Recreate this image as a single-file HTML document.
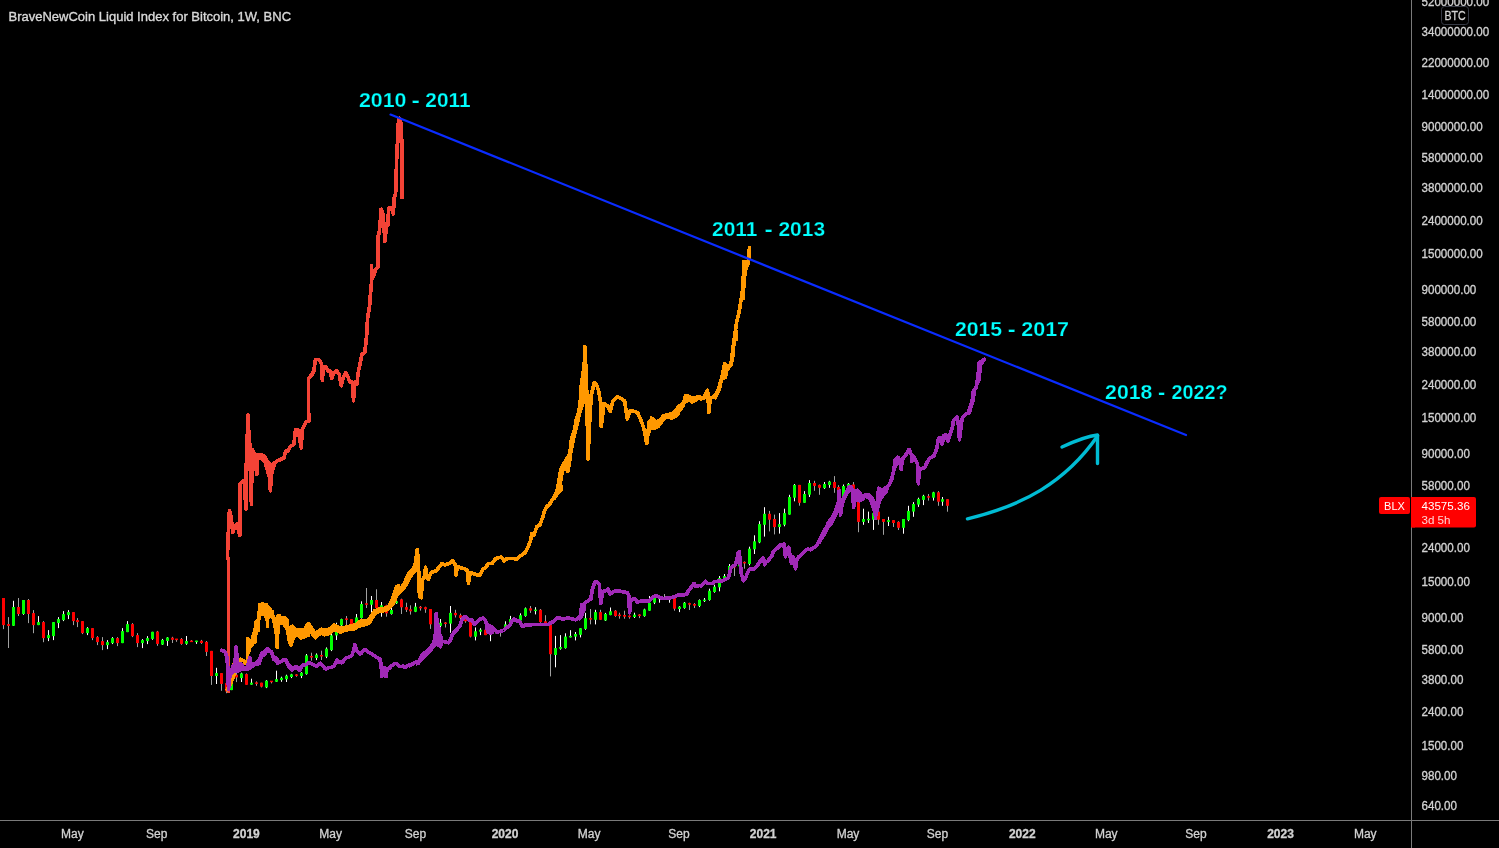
<!DOCTYPE html>
<html><head><meta charset="utf-8"><title>BLX 1W</title>
<style>html,body{margin:0;padding:0;background:#000;width:1499px;height:848px;overflow:hidden}
svg text{white-space:pre}</style></head>
<body>
<svg width="1499" height="848" viewBox="0 0 1499 848" style="position:absolute;left:0;top:0;will-change:transform"><rect x="3" y="598.0" width="1" height="31.1" fill="#a0a0a0"/>
<rect x="8" y="617.1" width="1" height="30.9" fill="#a0a0a0"/>
<rect x="13" y="600.8" width="1" height="25.1" fill="#ffffff"/>
<rect x="18" y="598.0" width="1" height="18.0" fill="#a0a0a0"/>
<rect x="23" y="600.0" width="1" height="14.8" fill="#ffffff"/>
<rect x="28" y="599.0" width="1" height="24.1" fill="#a0a0a0"/>
<rect x="33" y="610.1" width="1" height="23.1" fill="#a0a0a0"/>
<rect x="38" y="616.1" width="1" height="9.0" fill="#ffffff"/>
<rect x="43" y="621.1" width="1" height="21.1" fill="#a0a0a0"/>
<rect x="48" y="630.1" width="1" height="11.0" fill="#ffffff"/>
<rect x="53" y="622.1" width="1" height="18.0" fill="#ffffff"/>
<rect x="58" y="617.1" width="1" height="11.0" fill="#ffffff"/>
<rect x="63" y="611.1" width="1" height="10.0" fill="#ffffff"/>
<rect x="68" y="610.1" width="1" height="9.0" fill="#ffffff"/>
<rect x="73" y="612.1" width="1" height="13.0" fill="#a0a0a0"/>
<rect x="77" y="618.1" width="1" height="9.0" fill="#a0a0a0"/>
<rect x="82" y="621.1" width="1" height="13.0" fill="#a0a0a0"/>
<rect x="87" y="627.1" width="1" height="8.0" fill="#ffffff"/>
<rect x="92" y="628.1" width="1" height="12.0" fill="#a0a0a0"/>
<rect x="97" y="636.1" width="1" height="9.0" fill="#a0a0a0"/>
<rect x="102" y="637.1" width="1" height="13.0" fill="#a0a0a0"/>
<rect x="107" y="640.1" width="1" height="9.0" fill="#ffffff"/>
<rect x="112" y="637.1" width="1" height="7.0" fill="#ffffff"/>
<rect x="117" y="637.1" width="1" height="9.0" fill="#a0a0a0"/>
<rect x="122" y="628.1" width="1" height="15.0" fill="#ffffff"/>
<rect x="127" y="621.1" width="1" height="11.0" fill="#ffffff"/>
<rect x="132" y="623.1" width="1" height="14.0" fill="#a0a0a0"/>
<rect x="137" y="633.1" width="1" height="14.0" fill="#a0a0a0"/>
<rect x="142" y="639.1" width="1" height="9.0" fill="#ffffff"/>
<rect x="147" y="636.1" width="1" height="8.0" fill="#ffffff"/>
<rect x="152" y="631.8" width="1" height="8.0" fill="#ffffff"/>
<rect x="157" y="630.9" width="1" height="14.9" fill="#a0a0a0"/>
<rect x="162" y="638.9" width="1" height="6.1" fill="#ffffff"/>
<rect x="167" y="637.1" width="1" height="8.8" fill="#ffffff"/>
<rect x="172" y="636.8" width="1" height="6.2" fill="#a0a0a0"/>
<rect x="176" y="638.9" width="1" height="2.9" fill="#a0a0a0"/>
<rect x="181" y="638.0" width="1" height="6.8" fill="#a0a0a0"/>
<rect x="186" y="636.0" width="1" height="8.8" fill="#ffffff"/>
<rect x="191" y="640.1" width="1" height="1.9" fill="#a0a0a0"/>
<rect x="196" y="640.8" width="1" height="3.1" fill="#ffffff"/>
<rect x="201" y="639.9" width="1" height="4.0" fill="#a0a0a0"/>
<rect x="206" y="641.0" width="1" height="15.0" fill="#a0a0a0"/>
<rect x="211" y="650.9" width="1" height="34.0" fill="#a0a0a0"/>
<rect x="216" y="667.8" width="1" height="16.2" fill="#ffffff"/>
<rect x="221" y="673.1" width="1" height="17.7" fill="#a0a0a0"/>
<rect x="226" y="681.4" width="1" height="11.8" fill="#a0a0a0"/>
<rect x="231" y="678.1" width="1" height="12.0" fill="#ffffff"/>
<rect x="236" y="671.4" width="1" height="10.7" fill="#a0a0a0"/>
<rect x="241" y="672.7" width="1" height="9.3" fill="#ffffff"/>
<rect x="246" y="673.4" width="1" height="11.3" fill="#a0a0a0"/>
<rect x="251" y="678.7" width="1" height="6.0" fill="#ffffff"/>
<rect x="256" y="681.4" width="1" height="4.4" fill="#a0a0a0"/>
<rect x="261" y="682.7" width="1" height="4.7" fill="#a0a0a0"/>
<rect x="266" y="680.1" width="1" height="8.0" fill="#ffffff"/>
<rect x="271" y="681.1" width="1" height="2.3" fill="#a0a0a0"/>
<rect x="276" y="670.7" width="1" height="11.3" fill="#ffffff"/>
<rect x="281" y="676.7" width="1" height="5.1" fill="#ffffff"/>
<rect x="286" y="674.7" width="1" height="7.3" fill="#ffffff"/>
<rect x="291" y="673.8" width="1" height="4.3" fill="#ffffff"/>
<rect x="296" y="674.1" width="1" height="2.7" fill="#a0a0a0"/>
<rect x="301" y="672.1" width="1" height="6.0" fill="#ffffff"/>
<rect x="306" y="654.0" width="1" height="20.7" fill="#ffffff"/>
<rect x="311" y="652.7" width="1" height="8.0" fill="#a0a0a0"/>
<rect x="316" y="653.4" width="1" height="6.7" fill="#ffffff"/>
<rect x="321" y="650.7" width="1" height="9.3" fill="#a0a0a0"/>
<rect x="326" y="647.4" width="1" height="10.7" fill="#ffffff"/>
<rect x="331" y="634.0" width="1" height="17.1" fill="#ffffff"/>
<rect x="336" y="622.7" width="1" height="17.3" fill="#ffffff"/>
<rect x="341" y="618.7" width="1" height="7.3" fill="#ffffff"/>
<rect x="346" y="616.0" width="1" height="10.0" fill="#a0a0a0"/>
<rect x="351" y="619.1" width="1" height="8.3" fill="#a0a0a0"/>
<rect x="356" y="614.0" width="1" height="12.7" fill="#ffffff"/>
<rect x="361" y="601.3" width="1" height="17.3" fill="#ffffff"/>
<rect x="366" y="588.0" width="1" height="20.0" fill="#a0a0a0"/>
<rect x="371" y="596.0" width="1" height="16.7" fill="#ffffff"/>
<rect x="376" y="589.3" width="1" height="19.3" fill="#a0a0a0"/>
<rect x="381" y="602.0" width="1" height="14.7" fill="#ffffff"/>
<rect x="386" y="604.7" width="1" height="12.0" fill="#a0a0a0"/>
<rect x="391" y="603.3" width="1" height="11.3" fill="#ffffff"/>
<rect x="396" y="600.7" width="1" height="3.3" fill="#ffffff"/>
<rect x="401" y="598.7" width="1" height="15.3" fill="#a0a0a0"/>
<rect x="406" y="602.7" width="1" height="9.3" fill="#a0a0a0"/>
<rect x="410" y="605.3" width="1" height="9.3" fill="#a0a0a0"/>
<rect x="420" y="606.0" width="1" height="4.6" fill="#a0a0a0"/>
<rect x="425" y="606.7" width="1" height="6.1" fill="#a0a0a0"/>
<rect x="430" y="609.0" width="1" height="19.9" fill="#a0a0a0"/>
<rect x="435" y="621.3" width="1" height="6.1" fill="#ffffff"/>
<rect x="440" y="619.0" width="1" height="8.4" fill="#ffffff"/>
<rect x="445" y="622.1" width="1" height="5.4" fill="#a0a0a0"/>
<rect x="450" y="606.0" width="1" height="26.8" fill="#ffffff"/>
<rect x="455" y="609.8" width="1" height="7.7" fill="#a0a0a0"/>
<rect x="460" y="613.6" width="1" height="7.7" fill="#a0a0a0"/>
<rect x="465" y="616.7" width="1" height="6.1" fill="#a0a0a0"/>
<rect x="470" y="620.5" width="1" height="16.9" fill="#a0a0a0"/>
<rect x="475" y="627.4" width="1" height="13.0" fill="#ffffff"/>
<rect x="480" y="628.2" width="1" height="6.9" fill="#ffffff"/>
<rect x="485" y="629.7" width="1" height="5.4" fill="#a0a0a0"/>
<rect x="490" y="630.5" width="1" height="10.7" fill="#ffffff"/>
<rect x="495" y="629.7" width="1" height="3.8" fill="#a0a0a0"/>
<rect x="500" y="630.5" width="1" height="6.1" fill="#a0a0a0"/>
<rect x="505" y="621.3" width="1" height="8.4" fill="#ffffff"/>
<rect x="510" y="615.9" width="1" height="7.7" fill="#ffffff"/>
<rect x="515" y="618.2" width="1" height="3.1" fill="#a0a0a0"/>
<rect x="520" y="613.3" width="1" height="8.0" fill="#ffffff"/>
<rect x="525" y="607.5" width="1" height="9.2" fill="#ffffff"/>
<rect x="530" y="606.0" width="1" height="6.9" fill="#a0a0a0"/>
<rect x="535" y="607.2" width="1" height="7.2" fill="#ffffff"/>
<rect x="540" y="609.0" width="1" height="13.8" fill="#a0a0a0"/>
<rect x="545" y="615.2" width="1" height="10.0" fill="#a0a0a0"/>
<rect x="550" y="625.1" width="1" height="51.3" fill="#a0a0a0"/>
<rect x="555" y="635.9" width="1" height="31.4" fill="#ffffff"/>
<rect x="560" y="635.1" width="1" height="14.6" fill="#ffffff"/>
<rect x="565" y="633.3" width="1" height="15.3" fill="#ffffff"/>
<rect x="570" y="630.2" width="1" height="7.2" fill="#ffffff"/>
<rect x="575" y="632.0" width="1" height="8.4" fill="#ffffff"/>
<rect x="580" y="628.2" width="1" height="9.2" fill="#ffffff"/>
<rect x="585" y="612.9" width="1" height="16.9" fill="#ffffff"/>
<rect x="590" y="609.0" width="1" height="15.3" fill="#a0a0a0"/>
<rect x="595" y="609.8" width="1" height="14.6" fill="#ffffff"/>
<rect x="600" y="609.8" width="1" height="10.0" fill="#a0a0a0"/>
<rect x="605" y="612.9" width="1" height="8.1" fill="#ffffff"/>
<rect x="610" y="607.5" width="1" height="7.7" fill="#ffffff"/>
<rect x="615" y="610.1" width="1" height="6.7" fill="#a0a0a0"/>
<rect x="619" y="612.7" width="1" height="6.0" fill="#a0a0a0"/>
<rect x="624" y="610.7" width="1" height="8.0" fill="#a0a0a0"/>
<rect x="629" y="615.4" width="1" height="3.3" fill="#a0a0a0"/>
<rect x="634" y="612.7" width="1" height="5.3" fill="#ffffff"/>
<rect x="639" y="614.1" width="1" height="4.0" fill="#a0a0a0"/>
<rect x="644" y="608.7" width="1" height="8.0" fill="#ffffff"/>
<rect x="649" y="596.0" width="1" height="14.7" fill="#ffffff"/>
<rect x="654" y="597.4" width="1" height="6.7" fill="#ffffff"/>
<rect x="659" y="595.4" width="1" height="7.3" fill="#ffffff"/>
<rect x="664" y="594.0" width="1" height="6.0" fill="#a0a0a0"/>
<rect x="669" y="598.0" width="1" height="4.7" fill="#ffffff"/>
<rect x="674" y="597.4" width="1" height="13.3" fill="#a0a0a0"/>
<rect x="679" y="606.1" width="1" height="6.0" fill="#ffffff"/>
<rect x="684" y="602.0" width="1" height="6.7" fill="#ffffff"/>
<rect x="689" y="602.7" width="1" height="7.3" fill="#a0a0a0"/>
<rect x="694" y="603.1" width="1" height="4.9" fill="#a0a0a0"/>
<rect x="699" y="599.4" width="1" height="7.7" fill="#ffffff"/>
<rect x="704" y="598.0" width="1" height="4.0" fill="#ffffff"/>
<rect x="709" y="588.7" width="1" height="12.0" fill="#ffffff"/>
<rect x="714" y="584.7" width="1" height="8.0" fill="#ffffff"/>
<rect x="719" y="576.0" width="1" height="15.3" fill="#ffffff"/>
<rect x="724" y="574.0" width="1" height="8.0" fill="#ffffff"/>
<rect x="729" y="564.0" width="1" height="13.3" fill="#ffffff"/>
<rect x="734" y="562.0" width="1" height="14.0" fill="#a0a0a0"/>
<rect x="739" y="556.7" width="1" height="10.7" fill="#ffffff"/>
<rect x="744" y="561.4" width="1" height="7.3" fill="#a0a0a0"/>
<rect x="749" y="546.7" width="1" height="18.7" fill="#ffffff"/>
<rect x="754" y="535.3" width="1" height="18.7" fill="#ffffff"/>
<rect x="759" y="521.2" width="1" height="22.0" fill="#ffffff"/>
<rect x="764" y="507.2" width="1" height="29.4" fill="#ffffff"/>
<rect x="769" y="510.9" width="1" height="20.5" fill="#a0a0a0"/>
<rect x="774" y="514.6" width="1" height="19.8" fill="#a0a0a0"/>
<rect x="779" y="513.1" width="1" height="20.5" fill="#ffffff"/>
<rect x="784" y="508.7" width="1" height="17.6" fill="#ffffff"/>
<rect x="789" y="494.8" width="1" height="19.8" fill="#ffffff"/>
<rect x="794" y="484.0" width="1" height="17.3" fill="#ffffff"/>
<rect x="799" y="484.9" width="1" height="20.8" fill="#a0a0a0"/>
<rect x="804" y="491.1" width="1" height="11.7" fill="#ffffff"/>
<rect x="809" y="480.1" width="1" height="16.9" fill="#ffffff"/>
<rect x="814" y="480.8" width="1" height="10.0" fill="#a0a0a0"/>
<rect x="819" y="484.5" width="1" height="10.3" fill="#a0a0a0"/>
<rect x="824" y="482.0" width="1" height="6.9" fill="#ffffff"/>
<rect x="829" y="480.8" width="1" height="7.0" fill="#ffffff"/>
<rect x="834" y="476.1" width="1" height="16.7" fill="#a0a0a0"/>
<rect x="838" y="485.2" width="1" height="5.9" fill="#a0a0a0"/>
<rect x="843" y="484.5" width="1" height="13.2" fill="#ffffff"/>
<rect x="848" y="483.0" width="1" height="3.7" fill="#ffffff"/>
<rect x="853" y="482.0" width="1" height="10.6" fill="#a0a0a0"/>
<rect x="858" y="499.9" width="1" height="32.3" fill="#a0a0a0"/>
<rect x="863" y="508.7" width="1" height="16.1" fill="#ffffff"/>
<rect x="868" y="511.6" width="1" height="11.4" fill="#ffffff"/>
<rect x="873" y="511.6" width="1" height="18.3" fill="#ffffff"/>
<rect x="878" y="508.7" width="1" height="16.1" fill="#a0a0a0"/>
<rect x="883" y="519.0" width="1" height="15.8" fill="#a0a0a0"/>
<rect x="888" y="516.8" width="1" height="9.2" fill="#ffffff"/>
<rect x="893" y="520.1" width="1" height="6.9" fill="#a0a0a0"/>
<rect x="898" y="521.2" width="1" height="8.8" fill="#a0a0a0"/>
<rect x="903" y="519.0" width="1" height="14.7" fill="#ffffff"/>
<rect x="908" y="505.8" width="1" height="15.4" fill="#ffffff"/>
<rect x="913" y="502.1" width="1" height="14.7" fill="#ffffff"/>
<rect x="918" y="497.7" width="1" height="9.2" fill="#ffffff"/>
<rect x="923" y="494.8" width="1" height="10.3" fill="#ffffff"/>
<rect x="928" y="494.0" width="1" height="6.6" fill="#a0a0a0"/>
<rect x="933" y="491.8" width="1" height="8.8" fill="#ffffff"/>
<rect x="938" y="491.1" width="1" height="14.7" fill="#a0a0a0"/>
<rect x="942" y="497.0" width="1" height="8.8" fill="#ffffff"/>
<rect x="947" y="499.2" width="1" height="12.5" fill="#a0a0a0"/>
<rect x="415" y="602.9" width="1" height="9.2" fill="#ffffff"/>
<rect x="2" y="598.0" width="3" height="27.1" fill="#ff0000"/>
<rect x="7" y="624.1" width="3" height="1.8" fill="#ff0000"/>
<rect x="12" y="607.0" width="3" height="18.8" fill="#00ff00"/>
<rect x="17" y="607.0" width="3" height="7.0" fill="#ff0000"/>
<rect x="22" y="600.0" width="3" height="14.0" fill="#00ff00"/>
<rect x="27" y="600.0" width="3" height="14.0" fill="#ff0000"/>
<rect x="32" y="613.1" width="3" height="12.0" fill="#ff0000"/>
<rect x="37" y="622.1" width="3" height="3.0" fill="#00ff00"/>
<rect x="42" y="622.1" width="3" height="16.0" fill="#ff0000"/>
<rect x="47" y="635.1" width="3" height="3.0" fill="#00ff00"/>
<rect x="52" y="622.1" width="3" height="14.0" fill="#00ff00"/>
<rect x="57" y="619.1" width="3" height="4.0" fill="#00ff00"/>
<rect x="62" y="614.1" width="3" height="6.0" fill="#00ff00"/>
<rect x="67" y="612.1" width="3" height="3.0" fill="#00ff00"/>
<rect x="72" y="612.1" width="3" height="9.0" fill="#ff0000"/>
<rect x="76" y="620.1" width="3" height="2.0" fill="#ff0000"/>
<rect x="81" y="621.1" width="3" height="12.0" fill="#ff0000"/>
<rect x="86" y="628.1" width="3" height="5.0" fill="#00ff00"/>
<rect x="91" y="628.1" width="3" height="10.0" fill="#ff0000"/>
<rect x="96" y="637.1" width="3" height="5.0" fill="#ff0000"/>
<rect x="101" y="641.1" width="3" height="4.0" fill="#ff0000"/>
<rect x="106" y="642.1" width="3" height="3.0" fill="#00ff00"/>
<rect x="111" y="638.1" width="3" height="5.0" fill="#00ff00"/>
<rect x="116" y="638.1" width="3" height="5.0" fill="#ff0000"/>
<rect x="121" y="631.1" width="3" height="12.0" fill="#00ff00"/>
<rect x="126" y="624.1" width="3" height="8.0" fill="#00ff00"/>
<rect x="131" y="624.1" width="3" height="12.0" fill="#ff0000"/>
<rect x="136" y="635.1" width="3" height="8.0" fill="#ff0000"/>
<rect x="141" y="640.1" width="3" height="3.0" fill="#00ff00"/>
<rect x="146" y="638.1" width="3" height="3.0" fill="#00ff00"/>
<rect x="151" y="631.8" width="3" height="7.1" fill="#00ff00"/>
<rect x="156" y="631.6" width="3" height="12.3" fill="#ff0000"/>
<rect x="161" y="639.9" width="3" height="4.7" fill="#00ff00"/>
<rect x="166" y="637.5" width="3" height="3.5" fill="#00ff00"/>
<rect x="171" y="637.7" width="3" height="2.1" fill="#ff0000"/>
<rect x="175" y="638.6" width="3" height="1.5" fill="#ff0000"/>
<rect x="180" y="638.9" width="3" height="5.0" fill="#ff0000"/>
<rect x="185" y="641.0" width="3" height="2.8" fill="#00ff00"/>
<rect x="190" y="640.6" width="3" height="1.5" fill="#ff0000"/>
<rect x="195" y="640.6" width="3" height="1.5" fill="#00ff00"/>
<rect x="200" y="640.8" width="3" height="2.2" fill="#ff0000"/>
<rect x="205" y="641.9" width="3" height="10.0" fill="#ff0000"/>
<rect x="210" y="650.9" width="3" height="25.1" fill="#ff0000"/>
<rect x="215" y="673.1" width="3" height="2.9" fill="#00ff00"/>
<rect x="220" y="673.1" width="3" height="10.8" fill="#ff0000"/>
<rect x="225" y="683.1" width="3" height="8.3" fill="#ff0000"/>
<rect x="230" y="682.1" width="3" height="8.0" fill="#00ff00"/>
<rect x="235" y="674.7" width="3" height="2.7" fill="#ff0000"/>
<rect x="240" y="673.4" width="3" height="4.7" fill="#00ff00"/>
<rect x="245" y="674.1" width="3" height="10.7" fill="#ff0000"/>
<rect x="250" y="682.7" width="3" height="2.0" fill="#00ff00"/>
<rect x="255" y="682.4" width="3" height="1.5" fill="#ff0000"/>
<rect x="260" y="682.7" width="3" height="4.0" fill="#ff0000"/>
<rect x="265" y="680.7" width="3" height="6.7" fill="#00ff00"/>
<rect x="270" y="680.7" width="3" height="1.5" fill="#ff0000"/>
<rect x="275" y="679.1" width="3" height="2.7" fill="#00ff00"/>
<rect x="280" y="677.8" width="3" height="2.3" fill="#00ff00"/>
<rect x="285" y="675.7" width="3" height="3.5" fill="#00ff00"/>
<rect x="290" y="674.3" width="3" height="2.7" fill="#00ff00"/>
<rect x="295" y="674.4" width="3" height="1.5" fill="#ff0000"/>
<rect x="300" y="672.7" width="3" height="3.3" fill="#00ff00"/>
<rect x="305" y="655.4" width="3" height="18.7" fill="#00ff00"/>
<rect x="310" y="656.0" width="3" height="1.5" fill="#ff0000"/>
<rect x="315" y="654.7" width="3" height="3.3" fill="#00ff00"/>
<rect x="320" y="655.0" width="3" height="1.5" fill="#ff0000"/>
<rect x="325" y="648.7" width="3" height="8.0" fill="#00ff00"/>
<rect x="330" y="635.4" width="3" height="14.7" fill="#00ff00"/>
<rect x="335" y="630.7" width="3" height="4.7" fill="#00ff00"/>
<rect x="340" y="619.1" width="3" height="6.3" fill="#00ff00"/>
<rect x="345" y="618.4" width="3" height="1.5" fill="#ff0000"/>
<rect x="350" y="619.1" width="3" height="7.6" fill="#ff0000"/>
<rect x="355" y="617.4" width="3" height="8.0" fill="#00ff00"/>
<rect x="360" y="604.0" width="3" height="14.0" fill="#00ff00"/>
<rect x="365" y="603.3" width="3" height="1.5" fill="#ff0000"/>
<rect x="370" y="600.0" width="3" height="4.7" fill="#00ff00"/>
<rect x="375" y="600.0" width="3" height="8.0" fill="#ff0000"/>
<rect x="380" y="605.3" width="3" height="3.3" fill="#00ff00"/>
<rect x="385" y="605.3" width="3" height="8.0" fill="#ff0000"/>
<rect x="390" y="610.0" width="3" height="4.0" fill="#00ff00"/>
<rect x="395" y="601.3" width="3" height="2.0" fill="#00ff00"/>
<rect x="400" y="599.3" width="3" height="8.0" fill="#ff0000"/>
<rect x="405" y="607.1" width="3" height="2.7" fill="#ff0000"/>
<rect x="409" y="609.3" width="3" height="2.0" fill="#ff0000"/>
<rect x="419" y="606.8" width="3" height="1.5" fill="#ff0000"/>
<rect x="424" y="607.2" width="3" height="2.1" fill="#ff0000"/>
<rect x="429" y="609.0" width="3" height="15.3" fill="#ff0000"/>
<rect x="434" y="622.8" width="3" height="3.1" fill="#00ff00"/>
<rect x="439" y="622.8" width="3" height="3.1" fill="#00ff00"/>
<rect x="444" y="622.5" width="3" height="1.5" fill="#ff0000"/>
<rect x="449" y="612.9" width="3" height="10.7" fill="#00ff00"/>
<rect x="454" y="612.9" width="3" height="2.3" fill="#ff0000"/>
<rect x="459" y="615.2" width="3" height="2.8" fill="#ff0000"/>
<rect x="464" y="617.9" width="3" height="3.4" fill="#ff0000"/>
<rect x="469" y="621.3" width="3" height="15.3" fill="#ff0000"/>
<rect x="474" y="631.3" width="3" height="5.4" fill="#00ff00"/>
<rect x="479" y="629.7" width="3" height="2.0" fill="#00ff00"/>
<rect x="484" y="629.7" width="3" height="5.4" fill="#ff0000"/>
<rect x="489" y="632.0" width="3" height="3.1" fill="#00ff00"/>
<rect x="494" y="630.5" width="3" height="1.5" fill="#ff0000"/>
<rect x="499" y="630.9" width="3" height="1.5" fill="#ff0000"/>
<rect x="504" y="624.4" width="3" height="4.6" fill="#00ff00"/>
<rect x="509" y="619.0" width="3" height="3.8" fill="#00ff00"/>
<rect x="514" y="619.0" width="3" height="1.5" fill="#ff0000"/>
<rect x="519" y="615.2" width="3" height="5.4" fill="#00ff00"/>
<rect x="524" y="608.3" width="3" height="7.7" fill="#00ff00"/>
<rect x="529" y="608.3" width="3" height="2.3" fill="#ff0000"/>
<rect x="534" y="609.6" width="3" height="1.5" fill="#00ff00"/>
<rect x="539" y="609.8" width="3" height="12.3" fill="#ff0000"/>
<rect x="544" y="621.3" width="3" height="2.3" fill="#ff0000"/>
<rect x="549" y="625.1" width="3" height="29.1" fill="#ff0000"/>
<rect x="554" y="648.1" width="3" height="6.9" fill="#00ff00"/>
<rect x="559" y="647.0" width="3" height="1.8" fill="#00ff00"/>
<rect x="564" y="636.6" width="3" height="11.5" fill="#00ff00"/>
<rect x="569" y="635.9" width="3" height="1.5" fill="#00ff00"/>
<rect x="574" y="634.0" width="3" height="2.6" fill="#00ff00"/>
<rect x="579" y="628.2" width="3" height="6.6" fill="#00ff00"/>
<rect x="584" y="618.2" width="3" height="10.7" fill="#00ff00"/>
<rect x="589" y="618.1" width="3" height="1.5" fill="#ff0000"/>
<rect x="594" y="612.1" width="3" height="7.7" fill="#00ff00"/>
<rect x="599" y="612.1" width="3" height="7.7" fill="#ff0000"/>
<rect x="604" y="613.9" width="3" height="6.6" fill="#00ff00"/>
<rect x="609" y="611.3" width="3" height="3.8" fill="#00ff00"/>
<rect x="614" y="610.7" width="3" height="5.3" fill="#ff0000"/>
<rect x="618" y="614.6" width="3" height="1.5" fill="#ff0000"/>
<rect x="623" y="615.0" width="3" height="1.7" fill="#ff0000"/>
<rect x="628" y="615.6" width="3" height="1.5" fill="#ff0000"/>
<rect x="633" y="614.7" width="3" height="2.3" fill="#00ff00"/>
<rect x="638" y="614.5" width="3" height="1.5" fill="#ff0000"/>
<rect x="643" y="609.4" width="3" height="6.7" fill="#00ff00"/>
<rect x="648" y="602.7" width="3" height="8.0" fill="#00ff00"/>
<rect x="653" y="598.0" width="3" height="4.7" fill="#00ff00"/>
<rect x="658" y="597.7" width="3" height="1.5" fill="#00ff00"/>
<rect x="663" y="597.0" width="3" height="1.5" fill="#ff0000"/>
<rect x="668" y="598.4" width="3" height="1.5" fill="#00ff00"/>
<rect x="673" y="598.0" width="3" height="10.7" fill="#ff0000"/>
<rect x="678" y="606.7" width="3" height="2.3" fill="#00ff00"/>
<rect x="683" y="602.7" width="3" height="5.3" fill="#00ff00"/>
<rect x="688" y="603.1" width="3" height="1.6" fill="#ff0000"/>
<rect x="693" y="604.0" width="3" height="1.7" fill="#ff0000"/>
<rect x="698" y="600.0" width="3" height="6.0" fill="#00ff00"/>
<rect x="703" y="599.6" width="3" height="1.5" fill="#00ff00"/>
<rect x="708" y="590.7" width="3" height="9.3" fill="#00ff00"/>
<rect x="713" y="586.7" width="3" height="5.3" fill="#00ff00"/>
<rect x="718" y="578.0" width="3" height="9.3" fill="#00ff00"/>
<rect x="723" y="576.0" width="3" height="2.7" fill="#00ff00"/>
<rect x="728" y="566.0" width="3" height="10.7" fill="#00ff00"/>
<rect x="733" y="565.9" width="3" height="1.5" fill="#ff0000"/>
<rect x="738" y="562.7" width="3" height="3.6" fill="#00ff00"/>
<rect x="743" y="561.9" width="3" height="1.5" fill="#ff0000"/>
<rect x="748" y="548.7" width="3" height="15.3" fill="#00ff00"/>
<rect x="753" y="541.3" width="3" height="8.0" fill="#00ff00"/>
<rect x="758" y="524.1" width="3" height="18.3" fill="#00ff00"/>
<rect x="763" y="513.8" width="3" height="11.0" fill="#00ff00"/>
<rect x="768" y="513.8" width="3" height="5.9" fill="#ff0000"/>
<rect x="773" y="519.0" width="3" height="8.1" fill="#ff0000"/>
<rect x="778" y="524.1" width="3" height="2.9" fill="#00ff00"/>
<rect x="783" y="513.1" width="3" height="11.7" fill="#00ff00"/>
<rect x="788" y="497.0" width="3" height="17.6" fill="#00ff00"/>
<rect x="793" y="484.9" width="3" height="12.8" fill="#00ff00"/>
<rect x="798" y="484.9" width="3" height="17.9" fill="#ff0000"/>
<rect x="803" y="494.0" width="3" height="8.8" fill="#00ff00"/>
<rect x="808" y="483.0" width="3" height="11.7" fill="#00ff00"/>
<rect x="813" y="483.0" width="3" height="2.9" fill="#ff0000"/>
<rect x="818" y="484.9" width="3" height="2.9" fill="#ff0000"/>
<rect x="823" y="484.0" width="3" height="4.1" fill="#00ff00"/>
<rect x="828" y="481.6" width="3" height="3.4" fill="#00ff00"/>
<rect x="833" y="482.0" width="3" height="5.9" fill="#ff0000"/>
<rect x="837" y="487.0" width="3" height="3.8" fill="#ff0000"/>
<rect x="842" y="486.0" width="3" height="10.7" fill="#00ff00"/>
<rect x="847" y="483.8" width="3" height="2.2" fill="#00ff00"/>
<rect x="852" y="484.5" width="3" height="7.3" fill="#ff0000"/>
<rect x="857" y="499.9" width="3" height="22.0" fill="#ff0000"/>
<rect x="862" y="519.0" width="3" height="2.9" fill="#00ff00"/>
<rect x="867" y="518.8" width="3" height="1.5" fill="#00ff00"/>
<rect x="872" y="513.1" width="3" height="6.6" fill="#00ff00"/>
<rect x="877" y="511.6" width="3" height="8.1" fill="#ff0000"/>
<rect x="882" y="519.0" width="3" height="2.9" fill="#ff0000"/>
<rect x="887" y="520.1" width="3" height="1.8" fill="#00ff00"/>
<rect x="892" y="520.1" width="3" height="2.9" fill="#ff0000"/>
<rect x="897" y="521.9" width="3" height="5.9" fill="#ff0000"/>
<rect x="902" y="519.0" width="3" height="8.8" fill="#00ff00"/>
<rect x="907" y="510.9" width="3" height="9.2" fill="#00ff00"/>
<rect x="912" y="504.0" width="3" height="7.6" fill="#00ff00"/>
<rect x="917" y="498.9" width="3" height="5.7" fill="#00ff00"/>
<rect x="922" y="495.8" width="3" height="4.1" fill="#00ff00"/>
<rect x="927" y="496.2" width="3" height="1.5" fill="#ff0000"/>
<rect x="932" y="492.3" width="3" height="5.4" fill="#00ff00"/>
<rect x="937" y="492.3" width="3" height="9.4" fill="#ff0000"/>
<rect x="941" y="499.2" width="3" height="2.5" fill="#00ff00"/>
<rect x="946" y="499.2" width="3" height="6.6" fill="#ff0000"/>
<rect x="414" y="606.7" width="3" height="5.1" fill="#00ff00"/>
<polyline points="228.5,691.6 228.5,558.1 227.4,558.1 227.9,542.0 228.6,527.2 229.4,510.7 231.1,517.3 232.7,532.1 234.4,527.2 236.9,523.9 238.5,530.5 239.8,535.4 239.8,484.3 242.6,481.0 244.3,481.0 245.9,509.0 246.4,459.5 248.1,414.9 249.2,444.6 250.1,444.6 251.4,504.1 252.1,449.6 255.0,454.5 256.7,474.4 257.5,454.5 261.6,454.5 264.1,456.2 266.6,461.1 269.1,464.4 270.4,490.9 271.5,471.1 274.0,464.4 276.5,461.1 280.6,459.5 283.9,457.8 285.6,451.2 288.1,451.2 290.5,446.3 293.8,444.6 295.5,429.8 298.0,429.8 301.3,447.9 302.1,429.8 304.6,424.8 306.2,421.5 308.7,421.5 308.6,400.9 308.6,378.3 312.0,374.5 313.9,370.8 315.4,359.4 318.6,359.4 321.4,363.2 322.4,380.2 323.3,367.0 326.1,367.0 328.0,370.8 329.9,370.8 331.8,378.3 333.7,372.6 336.5,370.8 339.3,374.5 341.2,385.8 343.1,378.3 345.6,372.6 347.8,376.4 349.7,382.1 352.5,382.1 353.5,400.9 354.4,382.1 356.9,384.0 358.2,372.6 360.1,363.2 362.0,353.8 364.8,352.8 366.7,334.9 367.6,317.9 369.5,306.6 370.5,293.4 371.4,284.0 371.4,266.0 372.4,278.3 374.2,274.5 376.1,268.9 378.0,267.0 377.8,236.6 379.2,232.8 380.4,219.6 381.1,209.2 382.5,212.1 383.5,219.6 384.9,241.3 386.3,227.2 387.7,225.3 388.7,208.3 389.6,208.3 391.5,208.3 393.4,214.0 393.9,203.6 394.3,197.0 395.6,194.2 396.8,154.6 397.7,138.1 398.5,119.9 399.3,118.3 400.6,119.9 401.3,143.0 401.8,139.7 402.1,197.5" fill="none" stroke="#f44336" stroke-width="3.7" stroke-linejoin="round" stroke-linecap="square" shape-rendering="crispEdges"/>
<polygon points="257.5,453.7 265.3,454.2 268.2,459.5 271.5,462.8 276.5,459.5 276.5,464.4 274.0,471.1 272.4,479.3 271.5,490.9 269.4,490.9 268.2,479.3 265.8,471.1 263.3,462.8 257.5,457.8" fill="#f44336" shape-rendering="crispEdges"/>
<polygon points="245.1,459.5 247.6,444.6 252.5,449.6 255.9,452.9 257.5,454.5 257.5,474.4 255.9,474.4 254.2,459.5 251.7,459.5 250.1,471.1 248.4,471.1 246.8,474.4 245.1,481.0" fill="#f44336" shape-rendering="crispEdges"/>
<polyline points="227.3,689.3 230.8,683.4 232.6,678.7 233.8,675.2 234.4,671.7 233.8,664.0 235.0,670.5 236.2,666.9 237.3,665.8 240.9,659.3 243.8,661.0 245.6,663.4 247.4,661.0 247.7,638.6 249.7,641.0 251.5,642.2 253.2,636.3 255.0,630.4 256.2,622.1 258.6,619.8 259.7,606.8 262.1,604.4 262.3,603.9 264.5,604.9 266.6,619.8 267.6,607.0 269.8,609.2 271.9,613.4 274.0,619.8 276.1,630.4 277.2,647.4 278.3,615.5 280.4,617.7 282.5,619.8 284.6,617.7 286.8,619.8 288.9,638.9 291.0,645.3 292.1,626.2 294.2,628.3 296.3,630.4 298.4,632.5 300.6,630.4 302.7,630.4 304.8,634.6 306.9,628.3 309.0,624.0 311.2,628.3 313.3,634.6 315.4,636.8 317.5,632.5 319.7,630.4 321.8,629.3 323.9,631.5 326.0,634.6 328.2,632.5 330.3,630.4 332.4,626.2 334.5,625.1 336.6,628.3 338.8,630.4 340.9,631.5 343.0,630.4 345.1,628.3 347.3,628.3 349.4,629.3 351.5,627.2 353.6,626.2 355.8,626.2 357.9,626.2 360.0,625.1 362.1,624.0 364.3,623.0 366.4,621.9 368.5,621.9 370.6,619.8 372.7,614.5 374.9,611.3 379.1,609.2 383.4,610.2 387.6,609.2 389.7,604.9 391.9,600.7 394.0,594.3 396.1,587.9 398.2,585.8 400.3,590.1 402.5,585.8 404.6,583.7 406.7,577.3 408.8,573.1 411.0,571.0 413.1,568.8 415.2,564.6 417.3,549.7 418.4,562.5 419.5,596.4 421.4,597.6 422.1,580.6 424.2,577.8 425.6,567.1 426.3,574.9 428.4,579.2 429.9,574.9 432.0,572.1 436.2,570.7 439.8,566.4 441.9,563.6 444.7,565.0 449.0,563.6 452.5,560.8 455.3,565.0 456.0,574.9 457.5,566.4 460.3,567.8 464.5,568.6 467.4,570.7 468.5,583.4 470.2,572.8 473.0,573.5 477.3,574.9 480.1,574.9 482.9,569.3 485.8,567.1 488.6,563.6 492.1,563.6 495.0,559.4 497.1,557.9 501.3,557.2 504.2,560.8 507.0,558.6 511.2,558.6 514.1,558.6 516.9,559.4 519.7,556.5 522.6,554.4 525.4,552.3 528.2,546.6 530.4,541.0 531.8,533.9 533.9,535.3 536.7,526.8 539.6,525.4 542.4,518.3 544.5,511.2 546.6,507.0 549.5,504.2 552.3,499.9 555.1,497.1 558.0,492.8 560.8,490.0 560.4,475.9 561.5,467.4 565.7,467.4 567.9,471.6 570.0,458.9 572.1,437.7 575.3,431.3 576.4,420.7 578.5,416.4 580.6,403.7 581.7,386.7 583.8,382.5 584.9,346.4 586.5,382.5 588.0,458.9 589.5,424.9 591.2,395.2 594.4,382.5 596.5,384.6 598.7,391.0 600.8,403.7 601.3,426.7 603.9,403.4 607.8,406.0 610.4,411.2 613.0,400.8 616.9,396.9 620.7,398.2 624.6,400.8 627.2,418.9 629.8,411.2 633.7,411.2 637.6,412.5 641.5,421.5 644.1,429.3 646.7,443.6 649.3,421.5 651.9,418.9 654.5,424.1 657.1,421.5 662.2,418.9 667.4,416.3 672.6,413.8 677.8,412.5 683.0,406.0 685.6,395.6 689.5,398.2 693.4,398.2 698.5,396.9 703.7,398.2 707.6,390.4 708.9,412.5 710.2,398.2 714.1,396.9 718.0,390.4 721.9,377.4 724.5,364.5 727.1,369.7 731.0,364.5 733.6,343.7 736.2,325.6 736.5,322.5 738.9,313.1 741.2,299.0 743.0,287.2 743.6,269.5 748.3,262.4 744.2,265.9 748.7,260.0 748.9,254.2 749.5,247.7" fill="none" stroke="#ff9800" stroke-width="3.7" stroke-linejoin="round" stroke-linecap="square" shape-rendering="crispEdges"/>
<polygon points="742.0,259.5 749.8,259.5 749.5,265.0 747.5,270.0 746.5,276.0 745.5,288.0 744.5,300.0 741.2,300.0 742.0,287.0" fill="#ff9800" shape-rendering="crispEdges"/>
<polygon points="300.0,627.5 303.1,628.3 306.1,622.9 309.2,622.1 312.3,626.0 315.3,630.6 318.4,629.8 321.5,628.3 324.5,628.3 327.6,627.5 330.7,626.0 333.7,622.9 336.8,624.4 339.9,626.0 342.9,626.0 346.0,625.2 349.1,624.4 352.1,623.7 355.2,622.9 358.3,620.6 361.3,619.0 364.4,619.0 367.5,618.3 370.6,613.7 373.6,609.1 376.7,608.3 379.8,607.5 382.8,606.8 385.9,606.0 389.0,604.5 392.0,597.6 395.1,584.5 398.2,584.5 401.2,586.1 404.3,581.5 407.4,572.3 410.4,572.3 413.5,567.7 416.6,560.0 416.6,572.3 413.5,575.3 410.4,579.9 407.4,586.1 404.3,590.7 401.2,593.7 398.2,596.8 395.1,604.5 392.0,607.5 389.0,610.6 385.9,612.1 382.8,612.9 379.8,612.9 376.7,614.4 373.6,619.0 370.6,624.4 367.5,626.0 364.4,626.7 361.3,627.5 358.3,628.3 355.2,630.6 352.1,631.3 349.1,631.3 346.0,632.1 342.9,632.9 339.9,634.4 336.8,632.1 333.7,632.1 330.7,635.2 327.6,635.9 324.5,636.7 321.5,635.2 318.4,636.7 315.3,639.8 312.3,636.7 309.2,632.1 306.1,635.2 303.1,638.2 300.0,639.8" fill="#ff9800" shape-rendering="crispEdges"/>
<polygon points="246.2,637.1 248.7,637.1 249.1,641.2 249.9,639.6 253.6,638.8 254.5,630.5 255.3,629.7 255.3,619.8 258.2,619.8 258.2,602.8 267.7,602.8 268.5,604.9 269.7,608.6 272.2,609.5 273.9,610.7 274.7,617.3 276.7,617.3 276.7,614.0 280.5,614.0 281.3,615.6 282.9,616.5 287.1,616.5 287.9,618.9 288.3,623.1 289.5,626.4 294.5,626.4 296.2,627.6 297.8,628.0 305.2,628.0 306.1,623.1 307.7,621.8 310.0,621.8 310.0,636.3 308.5,637.1 306.1,637.9 304.4,638.8 301.1,640.0 297.8,637.9 297.0,636.3 294.5,639.6 292.8,645.4 289.5,644.5 287.9,643.7 287.1,638.8 285.8,630.5 282.9,625.6 279.2,624.7 278.8,647.8 276.3,647.8 276.3,629.7 273.9,629.7 271.8,619.8 270.1,618.1 269.3,619.8 268.9,627.6 266.4,628.0 266.0,612.3 264.4,612.3 263.9,616.5 261.5,616.1 260.2,620.6 260.2,631.3 257.8,633.0 256.5,642.9 254.5,644.5 251.1,648.7 250.3,652.8 248.7,654.5 248.7,665.0 246.2,665.0" fill="#ff9800" shape-rendering="crispEdges"/>
<polygon points="551.0,500.0 555.7,489.0 558.5,472.0 561.0,465.0 568.0,453.0 569.8,438.0 572.6,430.0 574.5,419.0 576.0,415.0 578.3,404.0 579.2,387.0 582.0,368.0 584.0,346.0 586.8,346.0 586.8,368.0 585.0,387.0 584.5,404.0 581.0,415.0 580.2,419.0 577.5,430.0 575.5,438.0 572.6,453.0 569.8,465.0 564.0,472.0 561.3,489.0 555.7,500.0" fill="#ff9800" shape-rendering="crispEdges"/>
<polygon points="649.5,416.3 651.2,416.3 653.7,417.2 656.2,419.6 657.8,419.6 659.5,418.8 661.9,414.7 664.4,413.9 666.1,413.0 668.5,412.6 671.0,412.2 672.7,410.6 674.3,409.7 676.0,407.3 677.6,404.8 680.0,403.9 680.0,414.7 677.6,417.2 676.0,418.0 674.3,418.8 672.7,419.6 671.0,420.5 668.5,418.8 666.1,419.6 664.4,421.3 661.9,424.6 659.5,427.9 657.8,428.7 656.2,429.5 653.7,429.5 651.2,429.5 649.5,437.8" fill="#ff9800" shape-rendering="crispEdges"/>
<polygon points="670.0,412.8 673.2,410.7 676.4,406.4 679.6,404.3 682.7,400.1 685.9,393.7 689.1,394.2 692.3,396.9 695.5,395.8 698.7,396.3 701.8,397.9 701.8,401.1 698.7,400.1 695.5,402.2 692.3,404.3 689.1,402.2 685.9,403.2 682.7,408.6 679.6,411.7 676.4,414.9 673.2,418.1 670.0,420.0" fill="#ff9800" shape-rendering="crispEdges"/>
<polygon points="715.1,397.9 717.2,389.4 719.9,384.1 721.0,377.8 722.5,366.1 723.1,361.8 725.7,361.8 727.3,364.0 729.4,364.0 731.6,361.8 732.6,356.5 733.7,345.9 734.8,338.5 734.8,330.0 738.5,330.0 737.9,340.6 735.8,341.7 734.8,355.5 733.7,360.8 732.6,365.0 729.4,368.2 727.9,372.5 727.3,378.8 723.1,379.9 722.0,386.3 719.9,392.6 717.2,397.9 715.6,400.1" fill="#ff9800" shape-rendering="crispEdges"/>
<polyline points="222.0,650.4 224.9,651.6 226.7,656.3 227.9,668.1 228.5,689.3 229.7,677.5 231.4,670.5 233.2,665.8 235.0,663.4 236.2,646.9 237.3,661.0 239.1,665.8 241.5,665.8 243.8,668.1 245.6,668.1 247.9,665.8 249.7,657.5 250.9,664.6 252.7,663.4 255.0,663.4 257.4,662.2 259.7,659.9 261.5,654.0 263.3,652.8 265.6,650.4 267.4,649.2 267.7,648.7 269.7,650.7 271.7,652.7 273.0,656.7 274.4,659.4 276.4,660.7 278.4,662.0 280.4,662.0 282.4,660.7 284.4,659.4 286.4,660.7 287.7,664.7 289.7,667.4 291.7,670.1 293.7,668.7 295.7,666.7 297.7,667.4 299.7,670.1 301.7,666.1 303.7,664.7 305.7,664.7 307.7,663.4 309.7,662.7 311.7,664.0 313.7,664.7 316.4,666.1 318.4,664.7 320.4,663.4 323.1,666.1 325.1,668.7 327.1,668.7 329.1,667.4 331.1,667.4 333.7,666.1 335.7,663.4 337.1,660.0 339.1,662.0 341.8,662.7 343.8,660.7 345.8,658.0 347.8,657.4 349.8,656.7 351.8,655.4 353.8,650.0 354.8,644.7 356.4,650.0 358.4,652.7 360.4,654.0 361.8,652.7 363.8,650.0 365.8,650.0 367.8,652.0 369.8,652.7 371.8,654.0 373.8,655.4 375.8,656.7 377.8,658.0 379.8,658.7 381.1,664.7 381.8,676.7 382.8,667.4 384.4,667.4 386.0,676.7 387.1,668.7 389.1,668.7 391.1,666.1 393.1,664.7 395.1,663.4 397.1,664.0 399.1,666.1 401.1,666.7 403.1,666.1 405.1,667.4 407.1,666.1 409.8,664.7 412.5,664.0 410.0,665.7 414.6,662.7 419.2,661.1 422.3,655.0 425.3,653.5 428.4,650.4 431.5,647.4 433.8,642.8 435.3,636.6 436.1,613.6 437.6,624.4 439.1,629.0 440.7,645.8 442.2,641.2 445.2,642.0 448.3,642.8 450.6,639.7 452.1,635.1 454.4,632.0 457.5,629.0 459.8,625.9 462.1,619.8 464.4,616.7 466.7,617.5 469.0,619.8 471.3,619.8 472.8,621.3 474.4,624.4 477.4,621.3 480.5,619.0 482.8,618.2 485.1,619.8 486.6,624.4 488.2,632.0 489.7,625.9 492.8,627.4 495.1,630.5 497.4,632.0 500.4,631.3 503.5,630.5 506.6,627.4 509.6,625.9 511.9,621.3 514.2,619.0 517.3,621.3 519.6,621.3 521.9,625.9 524.2,625.9 526.5,624.4 529.5,625.1 532.6,624.4 535.7,624.4 538.7,624.4 541.8,624.4 544.9,624.4 547.9,624.4 551.0,622.8 554.1,621.3 557.1,618.2 559.4,617.5 561.7,619.0 564.0,619.0 566.3,618.2 569.4,618.2 572.5,619.0 575.5,619.8 577.0,619.0 579.3,617.5 580.9,615.2 581.6,604.4 583.9,604.4 586.2,602.1 588.5,600.6 590.8,599.1 592.4,589.1 593.9,584.5 595.4,581.5 597.7,582.2 599.3,584.5 600.8,603.7 602.3,593.7 603.9,590.7 606.2,590.7 608.5,589.1 608.0,588.7 610.0,594.0 612.0,592.7 614.0,591.4 617.3,590.7 620.7,591.4 624.0,592.0 627.4,592.7 628.7,595.4 629.6,612.7 630.7,600.7 632.7,599.4 634.7,598.7 637.4,602.0 640.0,601.4 642.7,600.7 646.0,601.4 649.4,600.7 652.0,598.0 654.7,596.0 657.4,596.0 659.4,597.4 661.4,598.0 664.0,598.7 666.7,598.0 669.4,598.0 672.0,597.4 674.7,596.7 677.4,595.4 679.4,594.7 681.4,595.4 684.1,594.7 686.7,594.0 688.1,591.4 690.1,588.7 692.1,586.0 694.1,583.4 695.4,586.0 697.4,586.0 699.4,585.4 701.4,586.0 703.4,583.4 705.4,581.4 707.4,583.4 709.4,583.4 712.1,583.4 714.7,581.4 717.4,581.4 720.1,580.7 722.7,580.7 725.4,579.4 728.1,578.0 729.4,574.0 730.8,568.7 732.8,566.0 734.8,565.4 736.8,560.7 738.1,552.7 739.4,552.0 740.1,562.0 741.4,574.0 743.4,580.7 744.8,579.4 746.1,576.7 747.4,572.7 749.4,569.4 752.1,568.7 754.8,568.7 756.8,566.0 758.8,563.4 761.4,559.4 763.4,558.0 764.8,564.7 766.1,562.0 768.1,560.7 770.1,558.0 772.1,555.4 773.4,551.3 776.1,549.3 778.8,546.7 780.8,544.7 782.8,546.0 784.1,544.0 785.5,556.7 786.8,548.7 788.8,547.3 790.1,556.7 791.5,563.4 792.8,556.7 794.1,563.4 795.5,568.7 796.8,559.4 798.8,556.7 800.2,555.7 803.1,552.7 805.3,550.5 807.5,549.1 810.4,549.8 812.6,548.3 814.8,546.9 817.0,544.7 819.2,541.0 821.4,536.6 823.7,531.4 826.6,527.8 828.1,523.4 830.3,519.7 832.5,517.5 834.7,513.1 836.9,507.2 838.3,502.8 839.8,505.8 840.5,514.6 842.0,504.3 843.5,499.9 845.7,495.5 847.1,491.1 848.6,487.4 850.8,486.7 852.3,489.6 853.7,507.2 855.2,494.0 857.4,490.4 859.6,492.6 861.8,497.0 864.0,495.5 866.2,494.8 869.1,494.8 871.3,497.0 872.8,499.9 874.3,502.8 875.7,514.6 877.2,502.8 878.7,488.2 880.9,489.6 883.1,489.6 885.3,488.2 887.5,486.7 889.7,483.8 891.9,479.4 892.4,476.2 893.6,471.3 894.5,464.7 895.3,459.7 896.5,458.1 897.8,457.3 899.0,458.9 900.2,462.2 901.3,469.6 901.9,461.4 903.1,458.1 904.8,456.4 906.4,453.9 907.7,451.5 908.9,449.4 910.1,451.5 911.4,454.8 911.8,461.4 913.0,455.6 914.7,458.1 916.3,461.4 917.6,463.9 918.4,483.7 919.2,469.6 921.3,468.8 923.8,468.0 925.4,466.3 926.7,463.0 928.3,460.6 929.5,458.1 931.6,457.3 933.7,456.4 935.3,452.3 936.6,449.0 937.8,442.4 938.6,438.3 940.8,437.7 942.3,444.1 943.7,435.6 945.8,434.9 947.9,441.2 950.0,434.1 952.2,428.5 953.6,420.0 955.7,418.6 957.1,417.2 958.5,425.7 959.5,439.8 960.7,429.9 962.1,418.6 964.2,415.8 966.3,413.6 968.4,412.9 969.9,407.3 971.3,403.0 972.7,398.8 973.4,390.3 974.8,388.9 976.2,387.5 977.6,379.0 978.3,374.7 979.1,363.4 980.5,362.0 982.6,360.3 984.1,359.4" fill="none" stroke="#a029b6" stroke-width="3.7" stroke-linejoin="round" stroke-linecap="square" shape-rendering="crispEdges"/>
<polygon points="416.1,661.1 419.2,658.1 422.3,652.0 425.3,650.4 428.4,647.4 431.5,642.8 433.8,636.6 436.1,624.4 438.4,624.4 440.7,632.0 443.0,636.6 443.0,645.8 440.7,648.9 438.4,647.4 436.1,645.8 433.8,648.9 431.5,652.0 428.4,655.0 425.3,658.1 422.3,661.1 419.2,665.0 416.1,665.7" fill="#a029b6" shape-rendering="crispEdges"/>
<polygon points="485.1,622.8 489.7,623.6 493.5,627.4 493.5,633.6 490.5,635.1 486.6,633.6 485.1,629.0" fill="#a029b6" shape-rendering="crispEdges"/>
<polygon points="579.3,615.2 580.9,606.0 583.2,603.7 585.5,602.1 585.5,610.6 583.2,616.7 580.9,619.8 579.3,621.3" fill="#a029b6" shape-rendering="crispEdges"/>
<polygon points="231.9,665.5 234.7,660.8 239.4,662.2 242.3,662.2 245.1,667.4 247.0,668.3 248.9,663.6 250.3,661.7 252.6,662.2 255.5,662.2 258.3,658.9 260.7,651.3 263.0,651.3 265.4,649.9 267.7,648.3 270.1,649.0 272.5,650.4 274.8,656.0 277.2,656.0 279.5,659.8 281.9,659.8 284.2,658.4 286.6,657.9 289.0,662.6 291.3,665.0 293.7,666.9 296.0,665.5 298.4,665.5 300.0,666.4 300.0,670.7 298.4,672.1 296.0,669.2 293.7,670.2 291.3,671.6 289.0,666.4 286.6,664.5 284.2,662.2 281.9,662.6 279.5,664.5 277.2,665.5 274.8,662.2 272.5,660.8 270.1,652.7 267.7,653.2 265.4,656.0 263.0,657.9 260.7,664.5 258.3,665.9 255.5,666.4 252.6,668.3 250.3,670.2 248.9,670.7 247.0,670.7 245.1,671.1 242.3,671.1 239.4,672.5 234.7,673.0 231.9,675.8" fill="#a029b6" shape-rendering="crispEdges"/>
<polygon points="836.7,490.6 840.5,489.0 842.1,504.4 841.3,516.6 839.0,516.6 837.5,505.9" fill="#a029b6" shape-rendering="crispEdges"/>
<polygon points="819.8,538.1 822.9,528.9 826.0,525.8 829.0,518.2 832.1,516.6 835.2,507.4 838.2,502.8 841.3,498.2 844.4,492.1 847.4,486.0 850.5,485.2 850.5,492.1 847.4,495.2 844.4,501.3 841.3,509.0 838.2,513.6 835.2,519.7 832.1,525.8 829.0,528.9 826.0,535.0 822.9,539.6 819.8,545.7" fill="#a029b6" shape-rendering="crispEdges"/>
<polygon points="850.5,485.2 853.6,489.0 856.6,489.0 859.7,493.6 862.8,495.2 865.8,494.4 868.9,494.4 872.0,498.2 874.3,501.3 876.6,501.3 878.1,486.0 881.1,487.5 884.2,489.0 887.3,486.0 890.3,476.8 893.4,470.7 896.5,458.4 900.0,456.9 900.0,463.0 896.5,467.6 893.4,478.3 890.3,484.4 887.3,493.6 884.2,496.7 881.1,501.3 878.1,513.6 876.6,519.7 874.3,519.7 872.0,509.0 868.9,499.8 865.8,498.2 862.8,501.3 859.7,502.8 856.6,501.3 853.6,509.0 850.5,492.1" fill="#a029b6" shape-rendering="crispEdges"/>
<polygon points="968.4,412.9 969.9,405.8 971.3,401.6 972.0,390.3 974.8,386.7 976.2,379.0 976.9,363.4 979.1,360.9 983.7,359.0 984.7,359.5 984.7,362.0 981.9,366.2 981.2,379.0 977.6,387.5 976.2,390.3 974.8,401.6 973.4,405.8 970.6,414.3 966.3,415.8" fill="#a029b6" shape-rendering="crispEdges"/><line x1="390.5" y1="114.6" x2="1186" y2="435" stroke="#0a2cff" stroke-width="2.2" stroke-linecap="round"/><path d="M967.5,518.8 C1021.8,505.9 1065.3,482.8 1097.7,435.8" fill="none" stroke="#00bcd4" stroke-width="3.4" stroke-linecap="round"/><path d="M1062,447 C1075,441 1088,436 1097.5,435 M1097.5,437 L1097.5,463.5" fill="none" stroke="#00bcd4" stroke-width="3.4" stroke-linecap="round"/><text x="359.0" y="107" font-family="Liberation Sans" font-weight="bold" font-size="19.5" fill="#00ffff" stroke="#000" stroke-width="0.25" textLength="47.5" lengthAdjust="spacingAndGlyphs">2010</text><text x="411.5" y="107" font-family="Liberation Sans" font-weight="bold" font-size="19.5" fill="#00ffff" stroke="#000" stroke-width="0.25" textLength="8.4" lengthAdjust="spacingAndGlyphs">-</text><text x="425.3" y="107" font-family="Liberation Sans" font-weight="bold" font-size="19.5" fill="#00ffff" stroke="#000" stroke-width="0.25" textLength="45.2" lengthAdjust="spacingAndGlyphs">2011</text><text x="712.1" y="235.7" font-family="Liberation Sans" font-weight="bold" font-size="19.5" fill="#00ffff" stroke="#000" stroke-width="0.25" textLength="45.4" lengthAdjust="spacingAndGlyphs">2011</text><text x="764.5" y="235.7" font-family="Liberation Sans" font-weight="bold" font-size="19.5" fill="#00ffff" stroke="#000" stroke-width="0.25" textLength="8.3" lengthAdjust="spacingAndGlyphs">-</text><text x="778.4" y="235.7" font-family="Liberation Sans" font-weight="bold" font-size="19.5" fill="#00ffff" stroke="#000" stroke-width="0.25" textLength="46.8" lengthAdjust="spacingAndGlyphs">2013</text><text x="954.9" y="335.7" font-family="Liberation Sans" font-weight="bold" font-size="19.5" fill="#00ffff" stroke="#000" stroke-width="0.25" textLength="47.3" lengthAdjust="spacingAndGlyphs">2015</text><text x="1007.7" y="335.7" font-family="Liberation Sans" font-weight="bold" font-size="19.5" fill="#00ffff" stroke="#000" stroke-width="0.25" textLength="7.9" lengthAdjust="spacingAndGlyphs">-</text><text x="1021.2" y="335.7" font-family="Liberation Sans" font-weight="bold" font-size="19.5" fill="#00ffff" stroke="#000" stroke-width="0.25" textLength="47.9" lengthAdjust="spacingAndGlyphs">2017</text><text x="1105.1" y="399" font-family="Liberation Sans" font-weight="bold" font-size="19.5" fill="#00ffff" stroke="#000" stroke-width="0.25" textLength="47.3" lengthAdjust="spacingAndGlyphs">2018</text><text x="1158.1" y="399" font-family="Liberation Sans" font-weight="bold" font-size="19.5" fill="#00ffff" stroke="#000" stroke-width="0.25" textLength="7.2" lengthAdjust="spacingAndGlyphs">-</text><text x="1171.5" y="399" font-family="Liberation Sans" font-weight="bold" font-size="19.5" fill="#00ffff" stroke="#000" stroke-width="0.25" textLength="56.1" lengthAdjust="spacingAndGlyphs">2022?</text><rect x="1411" y="0" width="1" height="848" fill="#7a7a7a"/><rect x="0" y="820" width="1499" height="1" fill="#7a7a7a"/><text transform="translate(1421.5,5.7) scale(1,1.07)" font-family="Liberation Sans" font-size="11.6" fill="#d2d2d2" stroke="#d2d2d2" stroke-width="0.3">52000000.00</text><text transform="translate(1421.5,35.9) scale(1,1.07)" font-family="Liberation Sans" font-size="11.6" fill="#d2d2d2" stroke="#d2d2d2" stroke-width="0.3">34000000.00</text><text transform="translate(1421.5,66.9) scale(1,1.07)" font-family="Liberation Sans" font-size="11.6" fill="#d2d2d2" stroke="#d2d2d2" stroke-width="0.3">22000000.00</text><text transform="translate(1421.5,99.1) scale(1,1.07)" font-family="Liberation Sans" font-size="11.6" fill="#d2d2d2" stroke="#d2d2d2" stroke-width="0.3">14000000.00</text><text transform="translate(1421.5,130.5) scale(1,1.07)" font-family="Liberation Sans" font-size="11.6" fill="#d2d2d2" stroke="#d2d2d2" stroke-width="0.3">9000000.00</text><text transform="translate(1421.5,161.8) scale(1,1.07)" font-family="Liberation Sans" font-size="11.6" fill="#d2d2d2" stroke="#d2d2d2" stroke-width="0.3">5800000.00</text><text transform="translate(1421.5,191.9) scale(1,1.07)" font-family="Liberation Sans" font-size="11.6" fill="#d2d2d2" stroke="#d2d2d2" stroke-width="0.3">3800000.00</text><text transform="translate(1421.5,224.6) scale(1,1.07)" font-family="Liberation Sans" font-size="11.6" fill="#d2d2d2" stroke="#d2d2d2" stroke-width="0.3">2400000.00</text><text transform="translate(1421.5,258.0) scale(1,1.07)" font-family="Liberation Sans" font-size="11.6" fill="#d2d2d2" stroke="#d2d2d2" stroke-width="0.3">1500000.00</text><text transform="translate(1421.5,294.4) scale(1,1.07)" font-family="Liberation Sans" font-size="11.6" fill="#d2d2d2" stroke="#d2d2d2" stroke-width="0.3">900000.00</text><text transform="translate(1421.5,325.7) scale(1,1.07)" font-family="Liberation Sans" font-size="11.6" fill="#d2d2d2" stroke="#d2d2d2" stroke-width="0.3">580000.00</text><text transform="translate(1421.5,355.8) scale(1,1.07)" font-family="Liberation Sans" font-size="11.6" fill="#d2d2d2" stroke="#d2d2d2" stroke-width="0.3">380000.00</text><text transform="translate(1421.5,388.5) scale(1,1.07)" font-family="Liberation Sans" font-size="11.6" fill="#d2d2d2" stroke="#d2d2d2" stroke-width="0.3">240000.00</text><text transform="translate(1421.5,421.9) scale(1,1.07)" font-family="Liberation Sans" font-size="11.6" fill="#d2d2d2" stroke="#d2d2d2" stroke-width="0.3">150000.00</text><text transform="translate(1421.5,458.3) scale(1,1.07)" font-family="Liberation Sans" font-size="11.6" fill="#d2d2d2" stroke="#d2d2d2" stroke-width="0.3">90000.00</text><text transform="translate(1421.5,489.6) scale(1,1.07)" font-family="Liberation Sans" font-size="11.6" fill="#d2d2d2" stroke="#d2d2d2" stroke-width="0.3">58000.00</text><text transform="translate(1421.5,552.4) scale(1,1.07)" font-family="Liberation Sans" font-size="11.6" fill="#d2d2d2" stroke="#d2d2d2" stroke-width="0.3">24000.00</text><text transform="translate(1421.5,585.8) scale(1,1.07)" font-family="Liberation Sans" font-size="11.6" fill="#d2d2d2" stroke="#d2d2d2" stroke-width="0.3">15000.00</text><text transform="translate(1421.5,622.2) scale(1,1.07)" font-family="Liberation Sans" font-size="11.6" fill="#d2d2d2" stroke="#d2d2d2" stroke-width="0.3">9000.00</text><text transform="translate(1421.5,653.5) scale(1,1.07)" font-family="Liberation Sans" font-size="11.6" fill="#d2d2d2" stroke="#d2d2d2" stroke-width="0.3">5800.00</text><text transform="translate(1421.5,683.6) scale(1,1.07)" font-family="Liberation Sans" font-size="11.6" fill="#d2d2d2" stroke="#d2d2d2" stroke-width="0.3">3800.00</text><text transform="translate(1421.5,716.3) scale(1,1.07)" font-family="Liberation Sans" font-size="11.6" fill="#d2d2d2" stroke="#d2d2d2" stroke-width="0.3">2400.00</text><text transform="translate(1421.5,749.7) scale(1,1.07)" font-family="Liberation Sans" font-size="11.6" fill="#d2d2d2" stroke="#d2d2d2" stroke-width="0.3">1500.00</text><text transform="translate(1421.5,780.0) scale(1,1.07)" font-family="Liberation Sans" font-size="11.6" fill="#d2d2d2" stroke="#d2d2d2" stroke-width="0.3">980.00</text><text transform="translate(1421.5,810.3) scale(1,1.07)" font-family="Liberation Sans" font-size="11.6" fill="#d2d2d2" stroke="#d2d2d2" stroke-width="0.3">640.00</text><rect x="1441.5" y="6.5" width="27" height="18" rx="3" fill="#000" stroke="#363a45" stroke-width="1"/><text x="1444.5" y="20" font-family="Liberation Sans" font-size="12.4" fill="#d2d2d2" stroke="#d2d2d2" stroke-width="0.3" textLength="21.2" lengthAdjust="spacingAndGlyphs">BTC</text><rect x="1379" y="497" width="31" height="17" rx="2" fill="#ff0000"/><text x="1394.5" y="509.5" text-anchor="middle" font-family="Liberation Sans" font-size="11" fill="#ffffff">BLX</text><rect x="1411" y="497" width="65" height="30.5" rx="2" fill="#ff0000"/><rect x="1411" y="497" width="4" height="30.5" fill="#ff0000"/><text x="1421.5" y="509.8" font-family="Liberation Sans" font-size="11.6" fill="#ffffff">43575.36</text><text x="1421.5" y="523.7" font-family="Liberation Sans" font-size="11.6" fill="#ffd6d6">3d 5h</text><text x="72.4" y="838" text-anchor="middle" font-family="Liberation Sans" font-weight="normal" font-size="12" fill="#d2d2d2" stroke="#d2d2d2" stroke-width="0.3">May</text><text x="156.7" y="838" text-anchor="middle" font-family="Liberation Sans" font-weight="normal" font-size="12" fill="#d2d2d2" stroke="#d2d2d2" stroke-width="0.3">Sep</text><text x="246.4" y="838" text-anchor="middle" font-family="Liberation Sans" font-weight="bold" font-size="12" fill="#d2d2d2" stroke="#d2d2d2" stroke-width="0.3">2019</text><text x="330.7" y="838" text-anchor="middle" font-family="Liberation Sans" font-weight="normal" font-size="12" fill="#d2d2d2" stroke="#d2d2d2" stroke-width="0.3">May</text><text x="415.5" y="838" text-anchor="middle" font-family="Liberation Sans" font-weight="normal" font-size="12" fill="#d2d2d2" stroke="#d2d2d2" stroke-width="0.3">Sep</text><text x="505" y="838" text-anchor="middle" font-family="Liberation Sans" font-weight="bold" font-size="12" fill="#d2d2d2" stroke="#d2d2d2" stroke-width="0.3">2020</text><text x="589.2" y="838" text-anchor="middle" font-family="Liberation Sans" font-weight="normal" font-size="12" fill="#d2d2d2" stroke="#d2d2d2" stroke-width="0.3">May</text><text x="679" y="838" text-anchor="middle" font-family="Liberation Sans" font-weight="normal" font-size="12" fill="#d2d2d2" stroke="#d2d2d2" stroke-width="0.3">Sep</text><text x="763.2" y="838" text-anchor="middle" font-family="Liberation Sans" font-weight="bold" font-size="12" fill="#d2d2d2" stroke="#d2d2d2" stroke-width="0.3">2021</text><text x="848" y="838" text-anchor="middle" font-family="Liberation Sans" font-weight="normal" font-size="12" fill="#d2d2d2" stroke="#d2d2d2" stroke-width="0.3">May</text><text x="937.5" y="838" text-anchor="middle" font-family="Liberation Sans" font-weight="normal" font-size="12" fill="#d2d2d2" stroke="#d2d2d2" stroke-width="0.3">Sep</text><text x="1022.3" y="838" text-anchor="middle" font-family="Liberation Sans" font-weight="bold" font-size="12" fill="#d2d2d2" stroke="#d2d2d2" stroke-width="0.3">2022</text><text x="1106.3" y="838" text-anchor="middle" font-family="Liberation Sans" font-weight="normal" font-size="12" fill="#d2d2d2" stroke="#d2d2d2" stroke-width="0.3">May</text><text x="1196" y="838" text-anchor="middle" font-family="Liberation Sans" font-weight="normal" font-size="12" fill="#d2d2d2" stroke="#d2d2d2" stroke-width="0.3">Sep</text><text x="1280.5" y="838" text-anchor="middle" font-family="Liberation Sans" font-weight="bold" font-size="12" fill="#d2d2d2" stroke="#d2d2d2" stroke-width="0.3">2023</text><text x="1365.3" y="838" text-anchor="middle" font-family="Liberation Sans" font-weight="normal" font-size="12" fill="#d2d2d2" stroke="#d2d2d2" stroke-width="0.3">May</text><text x="8.5" y="21" font-family="Liberation Sans" font-size="13" fill="#d9d9d9" stroke="#d9d9d9" stroke-width="0.35">BraveNewCoin Liquid Index for Bitcoin, 1W, BNC</text></svg>
</body></html>
